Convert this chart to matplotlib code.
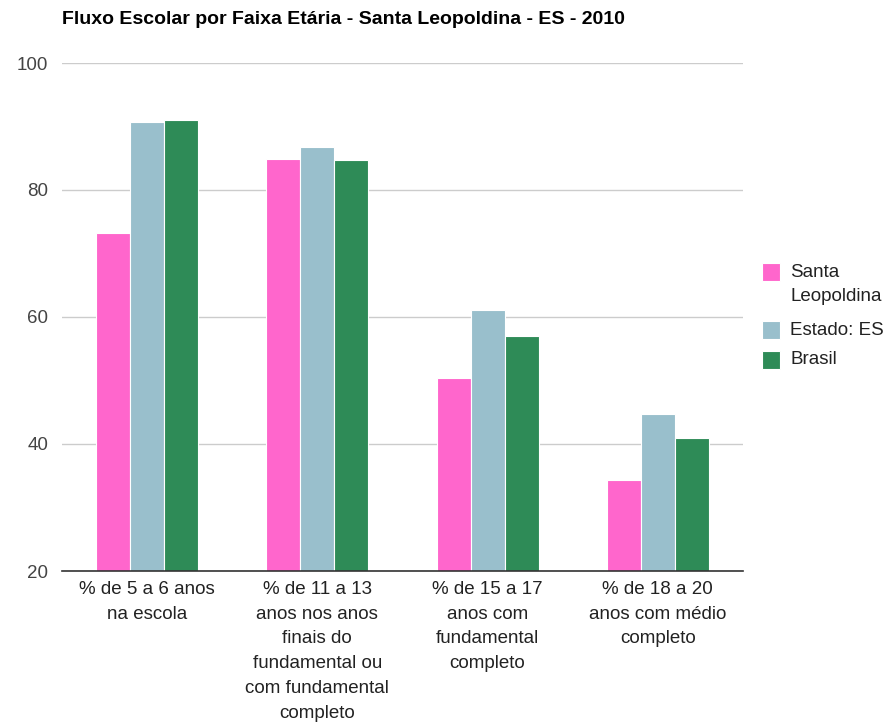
import matplotlib.pyplot as plt
from matplotlib.patches import Rectangle
import numpy as np

plt.rcParams['font.family'] = ['Liberation Sans', 'DejaVu Sans']

# data
categorias = [
    "% de 5 a 6 anos\nna escola",
    "% de 11 a 13\nanos nos anos\nfinais do\nfundamental ou\ncom fundamental\ncompleto",
    "% de 15 a 17\nanos com\nfundamental\ncompleto",
    "% de 18 a 20\nanos com médio\ncompleto",
]
series = ["Santa\nLeopoldina", "Estado: ES", "Brasil"]
santa_leopoldina = [73.2, 84.9, 50.4, 34.3]
estado_es = [90.7, 86.8, 61.1, 44.7]
brasil = [91.0, 84.7, 57.0, 40.9]
cores = ["#ff66cc", "#99bfcc", "#2e8b57"]

W, H = 888, 722
fig = plt.figure(figsize=(W / 100, H / 100), dpi=100)
ax = fig.add_axes([62 / W, 151 / H, 681 / W, 508 / H])

x = np.arange(len(categorias))
largura = 0.2
for i, (vals, cor) in enumerate(zip([santa_leopoldina, estado_es, brasil], cores)):
    ax.bar(x + (i - 1) * largura, vals, width=largura, color=cor,
           edgecolor='white', linewidth=0.8, zorder=3)

ax.set_xlim(-0.5, 3.5)
ax.set_ylim(20, 100)
ax.set_yticks([20, 40, 60, 80, 100])
ax.grid(axis='y', color='#cccccc', linewidth=1, zorder=0)
for s in ['top', 'right', 'left']:
    ax.spines[s].set_visible(False)
ax.spines['bottom'].set_color('#333333')
ax.spines['bottom'].set_linewidth(1.2)
ax.spines['bottom'].set_zorder(4)
ax.tick_params(axis='y', length=0, labelsize=13.5, labelcolor='#444444', pad=10)
ax.tick_params(axis='x', length=0, labelsize=13.5, labelcolor='#222222', pad=7)
ax.set_xticks(x)
ax.set_xticklabels(categorias, linespacing=1.6)

fig.text(62 / W, 1 - 20 / H, "Fluxo Escolar por Faixa Etária - Santa Leopoldina - ES - 2010",
         fontsize=14, fontweight='bold', color='black', va='center', ha='left')

# legenda
leg_y = [(272 + 297) / 2, 330, 360]
box_y = [272, 330, 360]
for nome, cor, ty, by in zip(series, cores, leg_y, box_y):
    fig.patches.append(Rectangle((762 / W, 1 - (by + 9) / H), 18 / W, 18 / H,
                                 transform=fig.transFigure, facecolor=cor,
                                 edgecolor='white', linewidth=0.8))
    fig.text(790 / W, 1 - ty / H, nome, fontsize=13.5, color='#222222',
             va='center', ha='left', linespacing=1.6)

fig.savefig("out.png", dpi=100)
